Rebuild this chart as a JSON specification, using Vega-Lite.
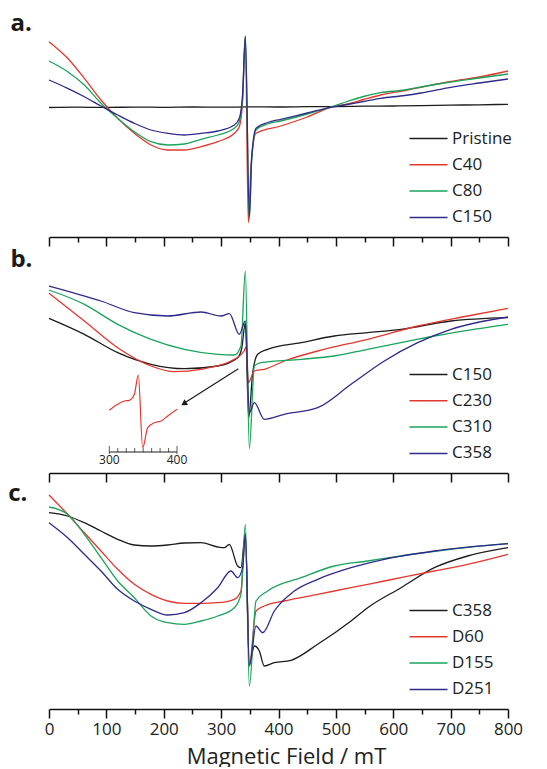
{
  "$schema": "https://vega.github.io/schema/vega-lite/v6.json",
  "background": "white",
  "padding": {"left": 8, "top": 12, "right": 5, "bottom": 0},
  "bounds": "flush",
  "spacing": 21,
  "config": {"view": {"stroke": null}, "font": "Open Sans",
    "legend": {"orient": "none", "legendX": 369, "legendY": 106, "title": null, "symbolType": "M-2,0H2", "symbolSize": 361, "symbolStrokeWidth": 1.5, "symbolFillColor": "transparent", "labelFontSize": 17, "labelFont": "Open Sans", "labelColor": "#222", "labelOffset": 13, "rowPadding": 7.3, "padding": 0}},
  "datasets": {
    "a": [
      {"s":"Pristine","x":0,"y":129.5},{"s":"Pristine","x":50,"y":129.8},{"s":"Pristine","x":100,"y":129.6},{"s":"Pristine","x":150,"y":129.9},{"s":"Pristine","x":200,"y":129.7},{"s":"Pristine","x":250,"y":130},{"s":"Pristine","x":300,"y":129.8},{"s":"Pristine","x":350,"y":130.1},{"s":"Pristine","x":400,"y":130},{"s":"Pristine","x":450,"y":130.3},{"s":"Pristine","x":500,"y":130.4},{"s":"Pristine","x":550,"y":130.8},{"s":"Pristine","x":600,"y":131},{"s":"Pristine","x":650,"y":131.4},{"s":"Pristine","x":700,"y":131.8},{"s":"Pristine","x":750,"y":132.2},{"s":"Pristine","x":800,"y":132.7},
      {"s":"C40","x":0,"y":195.3},{"s":"C40","x":32.5,"y":178.7},{"s":"C40","x":61.6,"y":158.7},{"s":"C40","x":90.6,"y":137},{"s":"C40","x":119.7,"y":118.7},{"s":"C40","x":148.7,"y":103.7},{"s":"C40","x":177.8,"y":92},{"s":"C40","x":206.8,"y":87},{"s":"C40","x":235.9,"y":87},{"s":"C40","x":264.9,"y":90.3},{"s":"C40","x":294,"y":95.3},{"s":"C40","x":323,"y":103.7},{"s":"C40","x":331.7,"y":110.3},{"s":"C40","x":337.5,"y":137},{"s":"C40","x":342.2,"y":200.3},{"s":"C40","x":347.4,"y":14.3},{"s":"C40","x":352,"y":70.3},{"s":"C40","x":360.8,"y":103.7},{"s":"C40","x":404,"y":111},{"s":"C40","x":450,"y":120},{"s":"C40","x":491,"y":129.7},{"s":"C40","x":520,"y":133},{"s":"C40","x":548,"y":137.5},{"s":"C40","x":578,"y":142},{"s":"C40","x":620,"y":146.5},{"s":"C40","x":648,"y":149.7},{"s":"C40","x":700,"y":155.5},{"s":"C40","x":750,"y":160},{"s":"C40","x":800,"y":166},
      {"s":"C80","x":0,"y":176},{"s":"C80","x":32.5,"y":165.3},{"s":"C80","x":61.6,"y":152},{"s":"C80","x":90.6,"y":133.7},{"s":"C80","x":119.7,"y":118.7},{"s":"C80","x":148.7,"y":105.3},{"s":"C80","x":177.8,"y":95.3},{"s":"C80","x":206.8,"y":92},{"s":"C80","x":235.9,"y":93},{"s":"C80","x":264.9,"y":97.7},{"s":"C80","x":294,"y":102},{"s":"C80","x":323,"y":108.7},{"s":"C80","x":331.7,"y":115.3},{"s":"C80","x":337.5,"y":140.3},{"s":"C80","x":342.2,"y":201},{"s":"C80","x":349.2,"y":17.7},{"s":"C80","x":353.3,"y":77},{"s":"C80","x":360.8,"y":107},{"s":"C80","x":381,"y":113},{"s":"C80","x":404,"y":116},{"s":"C80","x":450,"y":123},{"s":"C80","x":491,"y":130},{"s":"C80","x":520,"y":135.5},{"s":"C80","x":548,"y":140.5},{"s":"C80","x":578,"y":144.3},{"s":"C80","x":620,"y":147},{"s":"C80","x":648,"y":150},{"s":"C80","x":700,"y":155},{"s":"C80","x":750,"y":159},{"s":"C80","x":800,"y":163},
      {"s":"C150","x":0,"y":157},{"s":"C150","x":32.5,"y":148.7},{"s":"C150","x":61.6,"y":140.3},{"s":"C150","x":90.6,"y":131},{"s":"C150","x":119.7,"y":122},{"s":"C150","x":148.7,"y":113.7},{"s":"C150","x":177.8,"y":107},{"s":"C150","x":206.8,"y":103.7},{"s":"C150","x":235.9,"y":102},{"s":"C150","x":264.9,"y":103.7},{"s":"C150","x":294,"y":106},{"s":"C150","x":323,"y":112},{"s":"C150","x":331.7,"y":118.7},{"s":"C150","x":337.5,"y":143.7},{"s":"C150","x":342.2,"y":200.3},{"s":"C150","x":349.2,"y":20.3},{"s":"C150","x":353.3,"y":80.3},{"s":"C150","x":360.8,"y":108.7},{"s":"C150","x":381,"y":114.5},{"s":"C150","x":404,"y":117.7},{"s":"C150","x":450,"y":124},{"s":"C150","x":491,"y":129.7},{"s":"C150","x":520,"y":132.5},{"s":"C150","x":548,"y":135.5},{"s":"C150","x":578,"y":138.7},{"s":"C150","x":620,"y":141.5},{"s":"C150","x":648,"y":144},{"s":"C150","x":700,"y":149.7},{"s":"C150","x":750,"y":154},{"s":"C150","x":800,"y":158}
    ],
    "b": [
      {"s":"C150","x":0,"y":154.7},{"s":"C150","x":61.6,"y":138.7},{"s":"C150","x":119.7,"y":120.3},{"s":"C150","x":177.8,"y":108.7},{"s":"C150","x":235.9,"y":104.3},{"s":"C150","x":294,"y":107},{"s":"C150","x":328.8,"y":115.3},{"s":"C150","x":336,"y":125},{"s":"C150","x":342.2,"y":150},{"s":"C150","x":348,"y":55},{"s":"C150","x":355,"y":100},{"s":"C150","x":363.7,"y":118.7},{"s":"C150","x":381.1,"y":123.7},{"s":"C150","x":439.2,"y":130.3},{"s":"C150","x":497.3,"y":137},{"s":"C150","x":555.4,"y":140.3},{"s":"C150","x":613.5,"y":143.7},{"s":"C150","x":700.7,"y":152},{"s":"C150","x":800,"y":155.3},
      {"s":"C230","x":0,"y":179.7},{"s":"C230","x":61.6,"y":152},{"s":"C230","x":119.7,"y":125.3},{"s":"C230","x":177.8,"y":107},{"s":"C230","x":218.4,"y":101.3},{"s":"C230","x":264.9,"y":103.7},{"s":"C230","x":323,"y":113.7},{"s":"C230","x":340,"y":122},{"s":"C230","x":343.4,"y":126},{"s":"C230","x":347.4,"y":90.3},{"s":"C230","x":357.9,"y":102},{"s":"C230","x":375.3,"y":103.7},{"s":"C230","x":410.2,"y":112},{"s":"C230","x":468.3,"y":122},{"s":"C230","x":555.4,"y":133.7},{"s":"C230","x":642.6,"y":147},{"s":"C230","x":729.7,"y":157},{"s":"C230","x":800,"y":164.7},
      {"s":"C310","x":0,"y":183},{"s":"C310","x":61.6,"y":168.7},{"s":"C310","x":119.7,"y":148.7},{"s":"C310","x":177.8,"y":133.7},{"s":"C310","x":235.9,"y":123.7},{"s":"C310","x":294,"y":118.7},{"s":"C310","x":323,"y":118},{"s":"C310","x":334.6,"y":127},{"s":"C310","x":342.2,"y":202},{"s":"C310","x":349.2,"y":24.3},{"s":"C310","x":357.9,"y":107},{"s":"C310","x":369.5,"y":110.3},{"s":"C310","x":439.2,"y":113.7},{"s":"C310","x":497.3,"y":117},{"s":"C310","x":555.4,"y":123.7},{"s":"C310","x":613.5,"y":130.3},{"s":"C310","x":671.6,"y":137},{"s":"C310","x":729.7,"y":142.7},{"s":"C310","x":800,"y":148.7},
      {"s":"C358","x":0,"y":187},{"s":"C358","x":90.6,"y":172},{"s":"C358","x":148.7,"y":160.3},{"s":"C358","x":206.8,"y":157},{"s":"C358","x":264.9,"y":161},{"s":"C358","x":299.8,"y":157},{"s":"C358","x":314.3,"y":159.3},{"s":"C358","x":331.7,"y":138.7},{"s":"C358","x":342.2,"y":152},{"s":"C358","x":349.2,"y":60.3},{"s":"C358","x":357.9,"y":70.3},{"s":"C358","x":375.3,"y":53.7},{"s":"C358","x":410.2,"y":58.7},{"s":"C358","x":468.3,"y":65.3},{"s":"C358","x":526.4,"y":88.7},{"s":"C358","x":584.5,"y":112},{"s":"C358","x":642.6,"y":130.3},{"s":"C358","x":700.7,"y":143.7},{"s":"C358","x":758.8,"y":152},{"s":"C358","x":800,"y":156}
    ],
    "c": [
      {"s":"C358","x":0,"y":196.3},{"s":"C358","x":32.5,"y":193},{"s":"C358","x":61.6,"y":186.3},{"s":"C358","x":90.6,"y":178},{"s":"C358","x":119.7,"y":169.7},{"s":"C358","x":148.7,"y":164},{"s":"C358","x":177.8,"y":163},{"s":"C358","x":206.8,"y":164},{"s":"C358","x":235.9,"y":166},{"s":"C358","x":264.9,"y":166.3},{"s":"C358","x":294,"y":162},{"s":"C358","x":305.6,"y":161.3},{"s":"C358","x":314.3,"y":164.7},{"s":"C358","x":328.8,"y":143},{"s":"C358","x":334.6,"y":141.3},{"s":"C358","x":342.2,"y":174.7},{"s":"C358","x":349.2,"y":44.7},{"s":"C358","x":357.9,"y":63},{"s":"C358","x":366.6,"y":58},{"s":"C358","x":375.3,"y":43},{"s":"C358","x":392.7,"y":46.3},{"s":"C358","x":421.8,"y":48.7},{"s":"C358","x":468.3,"y":64.7},{"s":"C358","x":526.4,"y":88},{"s":"C358","x":555.4,"y":101.3},{"s":"C358","x":613.5,"y":121.3},{"s":"C358","x":671.6,"y":141.3},{"s":"C358","x":729.7,"y":153},{"s":"C358","x":800,"y":161.3},
      {"s":"D60","x":0,"y":214},{"s":"D60","x":32.5,"y":194.7},{"s":"D60","x":61.6,"y":176.3},{"s":"D60","x":90.6,"y":158},{"s":"D60","x":119.7,"y":139.7},{"s":"D60","x":148.7,"y":124.7},{"s":"D60","x":177.8,"y":114.7},{"s":"D60","x":206.8,"y":108},{"s":"D60","x":235.9,"y":105.7},{"s":"D60","x":264.9,"y":105.7},{"s":"D60","x":294,"y":106.3},{"s":"D60","x":323,"y":109.7},{"s":"D60","x":334.6,"y":118},{"s":"D60","x":342.2,"y":176},{"s":"D60","x":349.2,"y":44.7},{"s":"D60","x":360.8,"y":98},{"s":"D60","x":375.3,"y":103},{"s":"D60","x":410.2,"y":108},{"s":"D60","x":468.3,"y":114.7},{"s":"D60","x":526.4,"y":121.3},{"s":"D60","x":584.5,"y":128},{"s":"D60","x":671.6,"y":138},{"s":"D60","x":729.7,"y":144.7},{"s":"D60","x":800,"y":154.7},
      {"s":"D155","x":0,"y":202},{"s":"D155","x":32.5,"y":194.7},{"s":"D155","x":61.6,"y":174.7},{"s":"D155","x":90.6,"y":151.3},{"s":"D155","x":119.7,"y":128},{"s":"D155","x":148.7,"y":111.3},{"s":"D155","x":177.8,"y":93},{"s":"D155","x":206.8,"y":86.3},{"s":"D155","x":235.9,"y":84.7},{"s":"D155","x":264.9,"y":88},{"s":"D155","x":294,"y":93},{"s":"D155","x":323,"y":101.3},{"s":"D155","x":334.6,"y":114.7},{"s":"D155","x":342.2,"y":184.7},{"s":"D155","x":349.2,"y":23},{"s":"D155","x":360.8,"y":108},{"s":"D155","x":381.1,"y":118},{"s":"D155","x":439.2,"y":131.3},{"s":"D155","x":497.3,"y":143},{"s":"D155","x":555.4,"y":148},{"s":"D155","x":613.5,"y":153},{"s":"D155","x":700.7,"y":159.7},{"s":"D155","x":800,"y":165.3},
      {"s":"D251","x":0,"y":186.3},{"s":"D251","x":32.5,"y":171.3},{"s":"D251","x":61.6,"y":154.7},{"s":"D251","x":90.6,"y":138},{"s":"D251","x":119.7,"y":119.7},{"s":"D251","x":148.7,"y":108},{"s":"D251","x":177.8,"y":99.7},{"s":"D251","x":206.8,"y":94},{"s":"D251","x":235.9,"y":96.3},{"s":"D251","x":264.9,"y":106.3},{"s":"D251","x":294,"y":121.3},{"s":"D251","x":317.2,"y":138},{"s":"D251","x":328.8,"y":131.3},{"s":"D251","x":337.5,"y":141.3},{"s":"D251","x":342.2,"y":174.7},{"s":"D251","x":349.2,"y":43},{"s":"D251","x":360.8,"y":83},{"s":"D251","x":372.4,"y":76.3},{"s":"D251","x":392.7,"y":98},{"s":"D251","x":427.6,"y":118},{"s":"D251","x":468.3,"y":129.7},{"s":"D251","x":526.4,"y":141.3},{"s":"D251","x":584.5,"y":149.7},{"s":"D251","x":671.6,"y":158},{"s":"D251","x":800,"y":165.3}
    ],
    "inset": [
      {"ix":300,"y":62.7},{"ix":312.3,"y":68.7},{"ix":322.2,"y":72},{"ix":329.6,"y":72.7},{"ix":337,"y":78.7},{"ix":342.8,"y":98},{"ix":349.3,"y":25.3},{"ix":356.7,"y":45.3},{"ix":366.5,"y":50.3},{"ix":376.4,"y":52},{"ix":386.3,"y":57},{"ix":400,"y":63.7}
    ],
    "insetMajor": [{"ix":300,"label":"300"},{"ix":400,"label":"400"}],
    "insetMinor": [{"ix":312.5},{"ix":325},{"ix":337.5},{"ix":350},{"ix":362.5},{"ix":375},{"ix":387.5}],
    "one": [{}]
  },
  "resolve": {"scale": {"color": "independent"}, "legend": {"color": "independent"}},
  "vconcat": [
    {
      "width": 459, "height": 215,
      "title": {"text": "a.", "anchor": "start", "dx": -36, "offset": -33, "baseline": "alphabetic", "fontSize": 24, "fontWeight": "bold", "font": "Open Sans", "color": "#1a1a1a"},
      "data": {"name": "a"},
      "mark": {"type": "line", "strokeWidth": 1.3, "interpolate": "monotone"},
      "encoding": {
        "x": {"field": "x", "type": "quantitative", "scale": {"domain": [0, 800], "nice": false},
          "axis": {"values": [0,50,100,150,200,250,300,350,400,450,500,550,600,650,700,750,800], "labels": false, "title": null, "grid": false, "domainColor": "#111", "domainWidth": 1.5, "tickColor": "#111", "tickWidth": 1.5, "tickSize": {"condition": {"test": "datum.value % 100 === 0", "value": 9}, "value": 5}}},
        "y": {"field": "y", "type": "quantitative", "scale": {"domain": [0, 215], "nice": false, "zero": false}, "axis": null},
        "color": {"field": "s", "type": "nominal", "sort": null,
          "scale": {"domain": ["Pristine","C40","C80","C150"], "range": ["#1c1c1c","#e2382f","#1aa35a","#2e2b8a"]}}
      }
    },
    {
      "width": 459, "height": 215,
      "title": {"text": "b.", "anchor": "start", "dx": -36, "offset": -33, "baseline": "alphabetic", "fontSize": 24, "fontWeight": "bold", "font": "Open Sans", "color": "#1a1a1a"},
      "resolve": {"scale": {"x": "independent"}},
      "layer": [
        {
          "layer": [
            {
              "data": {"name": "b"},
              "mark": {"type": "line", "strokeWidth": 1.3, "interpolate": "monotone"},
              "encoding": {
                "x": {"field": "x", "type": "quantitative", "scale": {"domain": [0, 800], "nice": false},
                  "axis": {"values": [0,50,100,150,200,250,300,350,400,450,500,550,600,650,700,750,800], "labels": false, "title": null, "grid": false, "domainColor": "#111", "domainWidth": 1.5, "tickColor": "#111", "tickWidth": 1.5, "tickSize": {"condition": {"test": "datum.value % 100 === 0", "value": 9}, "value": 5}}},
                "y": {"field": "y", "type": "quantitative", "scale": {"domain": [0, 215], "nice": false, "zero": false}, "axis": null},
                "color": {"field": "s", "type": "nominal", "sort": null,
                  "scale": {"domain": ["C150","C230","C310","C358"], "range": ["#1c1c1c","#e2382f","#1aa35a","#2e2b8a"]}}
              }
            },
            {
              "data": {"name": "one"},
              "mark": {"type": "rule", "color": "#1a1a1a", "strokeWidth": 1.2},
              "encoding": {
                "x": {"datum": 330, "type": "quantitative"},
                "y": {"datum": 104.3, "type": "quantitative"},
                "x2": {"datum": 236},
                "y2": {"datum": 70}
              }
            },
            {
              "data": {"name": "one"},
              "mark": {"type": "point", "shape": "triangle-up", "filled": true, "color": "#1a1a1a", "size": 45, "angle": 237.4, "opacity": 1},
              "encoding": {
                "x": {"datum": 235, "type": "quantitative"},
                "y": {"datum": 69.3, "type": "quantitative"}
              }
            }
          ]
        },
        {
          "layer": [
            {
              "data": {"name": "inset"},
              "mark": {"type": "line", "color": "#e2382f", "strokeWidth": 1.2, "interpolate": "monotone"},
              "encoding": {
                "x": {"field": "ix", "type": "quantitative", "scale": {"domain": [210.9, 888.9], "nice": false, "zero": false}, "axis": null},
                "y": {"field": "y", "type": "quantitative", "scale": {"domain": [0, 215], "nice": false, "zero": false}, "axis": null}
              }
            },
            {
              "data": {"name": "one"},
              "mark": {"type": "rule", "color": "#1a1a1a", "strokeWidth": 1},
              "encoding": {
                "x": {"datum": 300, "type": "quantitative"},
                "x2": {"datum": 400},
                "y": {"datum": 21, "type": "quantitative"}
              }
            },
            {
              "data": {"name": "insetMajor"},
              "mark": {"type": "tick", "orient": "vertical", "color": "#1a1a1a", "size": 8, "thickness": 1, "yOffset": -2},
              "encoding": {
                "x": {"field": "ix", "type": "quantitative"},
                "y": {"datum": 21, "type": "quantitative"}
              }
            },
            {
              "data": {"name": "insetMinor"},
              "mark": {"type": "tick", "orient": "vertical", "color": "#1a1a1a", "size": 4, "thickness": 1, "yOffset": -2},
              "encoding": {
                "x": {"field": "ix", "type": "quantitative"},
                "y": {"datum": 21, "type": "quantitative"}
              }
            },
            {
              "data": {"name": "insetMajor"},
              "mark": {"type": "text", "baseline": "top", "dy": 3, "fontSize": 12, "font": "Open Sans", "color": "#222"},
              "encoding": {
                "x": {"field": "ix", "type": "quantitative"},
                "y": {"datum": 21, "type": "quantitative"},
                "text": {"field": "label"}
              }
            }
          ]
        }
      ]
    },
    {
      "width": 459, "height": 215,
      "title": {"text": "c.", "anchor": "start", "dx": -36, "offset": -33, "baseline": "alphabetic", "fontSize": 24, "fontWeight": "bold", "font": "Open Sans", "color": "#1a1a1a"},
      "data": {"name": "c"},
      "mark": {"type": "line", "strokeWidth": 1.3, "interpolate": "monotone"},
      "encoding": {
        "x": {"field": "x", "type": "quantitative", "scale": {"domain": [0, 800], "nice": false},
          "axis": {"values": [0,50,100,150,200,250,300,350,400,450,500,550,600,650,700,750,800], "labelExpr": "datum.value % 100 === 0 ? datum.label : ''", "labelFlush": false, "labelOverlap": false, "labelFontSize": 17, "labelFont": "Open Sans", "labelColor": "#222", "labelPadding": 3, "grid": false, "domainColor": "#111", "domainWidth": 1.5, "tickColor": "#111", "tickWidth": 1.5, "tickSize": {"condition": {"test": "datum.value % 100 === 0", "value": 9}, "value": 5},
            "title": "Magnetic Field / mT", "titleFontSize": 22, "titleFont": "Open Sans", "titleFontWeight": "normal", "titleColor": "#222", "titleX": 237, "titleY": 54, "titleBaseline": "alphabetic", "titleAlign": "center", "titleAnchor": null}},
        "y": {"field": "y", "type": "quantitative", "scale": {"domain": [0, 215], "nice": false, "zero": false}, "axis": null},
        "color": {"field": "s", "type": "nominal", "sort": null,
          "scale": {"domain": ["C358","D60","D155","D251"], "range": ["#1c1c1c","#e2382f","#1aa35a","#2e2b8a"]}}
      }
    }
  ]
}
